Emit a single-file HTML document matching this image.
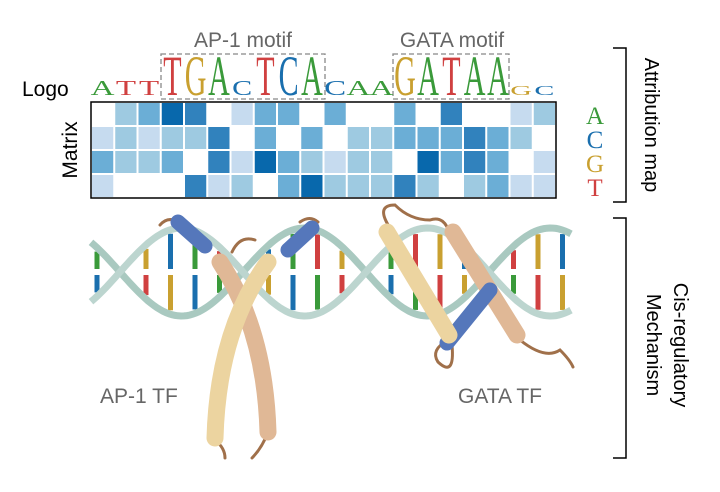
<!DOCTYPE html>
<html><head><meta charset="utf-8"><style>
html,body{margin:0;padding:0;background:#fff;width:720px;height:492px;overflow:hidden}
svg{display:block;font-family:"Liberation Sans",sans-serif}
.lg{font-family:"Liberation Serif",serif;font-size:30px;text-anchor:middle}
</style></head><body>
<svg width="720" height="492" viewBox="0 0 720 492" id="s">
<text x="22" y="96" font-size="21" fill="#000">Logo</text>
<text transform="translate(77,150) rotate(-90)" font-size="21" text-anchor="middle" fill="#000">Matrix</text>
<text x="243" y="47" font-size="21" fill="#666" text-anchor="middle">AP-1 motif</text>
<text x="452" y="47" font-size="21" fill="#666" text-anchor="middle">GATA motif</text>
<rect x="161" y="54" width="164" height="45" fill="none" stroke="#888" stroke-dasharray="5,3" stroke-width="1.3"/>
<rect x="393" y="54" width="116" height="45" fill="none" stroke="#888" stroke-dasharray="5,3" stroke-width="1.3"/>
<g id="cells"></g>
<rect x="91" y="102" width="465" height="96" fill="none" stroke="#000" stroke-width="1.5"/>
<g class="lg">
<text transform="translate(102.6,95) scale(1.1,.7)" fill="#3a9a3a">A</text>
<text transform="translate(125.9,95) scale(1.1,.7)" fill="#d04040">T</text>
<text transform="translate(149.1,95) scale(1.1,.7)" fill="#d04040">T</text>
<text transform="translate(172.4,95) scale(1,1.9)" fill="#d04040">T</text>
<text transform="translate(195.6,95) scale(1,1.9)" fill="#c9a030">G</text>
<text transform="translate(218.9,95) scale(1,1.9)" fill="#3a9a3a">A</text>
<text transform="translate(242.1,95) scale(1,.7)" fill="#1a6fae">C</text>
<text transform="translate(265.4,95) scale(1,1.9)" fill="#d04040">T</text>
<text transform="translate(288.6,95) scale(1,1.9)" fill="#1a6fae">C</text>
<text transform="translate(311.9,95) scale(1,1.9)" fill="#3a9a3a">A</text>
<text transform="translate(335.1,95) scale(1.1,.7)" fill="#1a6fae">C</text>
<text transform="translate(358.4,95) scale(1.1,.7)" fill="#3a9a3a">A</text>
<text transform="translate(381.6,95) scale(1.1,.7)" fill="#3a9a3a">A</text>
<text transform="translate(404.9,95) scale(1,1.9)" fill="#c9a030">G</text>
<text transform="translate(428.1,95) scale(1,1.9)" fill="#3a9a3a">A</text>
<text transform="translate(451.4,95) scale(1,1.9)" fill="#d04040">T</text>
<text transform="translate(474.6,95) scale(1,1.9)" fill="#3a9a3a">A</text>
<text transform="translate(497.9,95) scale(1,1.9)" fill="#3a9a3a">A</text>
<text transform="translate(521.1,95) scale(1,.45)" fill="#c9a030">G</text>
<text transform="translate(544.4,95) scale(1,.45)" fill="#1a6fae">C</text>
</g>
<g style="font-family:'Liberation Serif',serif;font-size:25px;text-anchor:middle">
<text x="595" y="124" fill="#3a9a3a">A</text>
<text x="595" y="148" fill="#1a6fae">C</text>
<text x="595" y="172" fill="#c9a030">G</text>
<text x="595" y="196" fill="#d04040">T</text>
</g>
<path d="M613 48H626V202H613M613 218H626V458H613" fill="none" stroke="#000" stroke-width="1.5"/>
<text transform="translate(645,125) rotate(90)" font-size="20" text-anchor="middle">Attribution map</text>
<text transform="translate(674,345) rotate(90)" font-size="20" text-anchor="middle">Cis-regulatory</text>
<text transform="translate(647,345) rotate(90)" font-size="20" text-anchor="middle">Mechanism</text>
<g id="dna"></g>
<g fill="none" stroke-linecap="round">
<path d="M232 252 Q240 235 255 240" stroke="#a0704a" stroke-width="3"/>
<path d="M160 225 Q168 216 178 222" stroke="#a0704a" stroke-width="3"/>
<path d="M300 222 Q310 215 318 222" stroke="#a0704a" stroke-width="3"/>
<path d="M215 440 Q225 448 225 458" stroke="#a0704a" stroke-width="3"/>
<path d="M268 432 Q262 448 252 458" stroke="#a0704a" stroke-width="3"/>
<path d="M220 262 Q265 330 268 432" stroke="#e0b896" stroke-width="17"/>
<path d="M268 262 Q218 330 215 438" stroke="#ecd4a0" stroke-width="17"/>
<path d="M178 222 L205 246" stroke="#5577bb" stroke-width="15"/>
<path d="M288 250 L312 228" stroke="#5577bb" stroke-width="15"/>
<path d="M390 228 Q375 205 395 205 Q410 220 430 220 Q445 215 450 235" stroke="#a0704a" stroke-width="3"/>
<path d="M448 340 Q430 350 438 362 Q455 378 452 345" stroke="#a0704a" stroke-width="3"/>
<path d="M520 340 Q545 360 560 350 Q570 360 573 367" stroke="#a0704a" stroke-width="3"/>
<path d="M453 232 L517 335" stroke="#e0b896" stroke-width="17"/>
<path d="M490 290 L447 343" stroke="#5577bb" stroke-width="15"/>
<path d="M387 232 L449 335" stroke="#ecd4a0" stroke-width="17"/>
</g>
<text x="100" y="403" font-size="21" fill="#666">AP-1 TF</text>
<text x="458" y="403" font-size="21" fill="#666">GATA TF</text>
</svg>
<script>
var M=[[0,2,3,5,4,0,1,3,3,0,3,0,0,3,0,4,0,0,1,2],[1,2,1,2,2,4,0,3,0,3,0,2,2,3,3,3,4,3,2,0],[3,2,2,3,0,4,1,5,3,2,1,2,2,0,5,3,4,3,0,1],[1,0,0,0,4,1,2,0,3,5,2,2,2,4,2,0,2,3,1,1]];
var C=["#fff","#c6dbef","#9ecae1","#6baed6","#3182bd","#0868ac"];
var s="";for(var r=0;r<4;r++)for(var c=0;c<20;c++)s+='<rect x="'+(91+c*23.25+1)+'" y="'+(102+r*24+1)+'" width="21.25" height="22" fill="'+C[M[r][c]]+'"/>';
document.getElementById("cells").innerHTML=s;
var d="",cols=["#d04040","#3a9a3a","#1a6fae","#c9a030"],cy=272,A=44,P=246,x0=120;
function y1(x){return cy+A*Math.sin(2*Math.PI*(x-x0)/P);}
var i=0;for(var x=97;x<570;x+=24.5,i++){var a=y1(x),b=2*cy-a;var t=Math.min(a,b)+4,bt=Math.max(a,b)-4;
d+='<line x1="'+x+'" y1="'+t+'" x2="'+x+'" y2="'+(cy-3)+'" stroke="'+cols[(i*3+1)%4]+'" stroke-width="5"/>';
d+='<line x1="'+x+'" y1="'+(cy+3)+'" x2="'+x+'" y2="'+bt+'" stroke="'+cols[(i*3+2)%4]+'" stroke-width="5"/>';}
var p1="",p2="";for(var x=91;x<=572;x+=3){p1+=(x==91?"M":"L")+x+" "+y1(x).toFixed(1);p2+=(x==91?"M":"L")+x+" "+(2*cy-y1(x)).toFixed(1);}
d+='<path d="'+p1+'" fill="none" stroke="#a9c9c0" stroke-width="7"/><path d="'+p2+'" fill="none" stroke="#bcd5cf" stroke-width="7"/>';
document.getElementById("dna").innerHTML=d;
</script>
</body></html>
